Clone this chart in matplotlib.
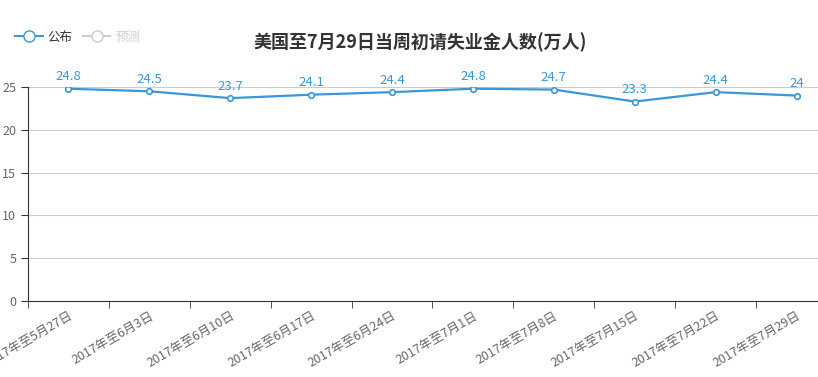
import numpy as np
import matplotlib.pyplot as plt
from matplotlib.lines import Line2D

plt.rcParams['font.family'] = ['Noto Sans CJK SC', 'DejaVu Sans']

weeks = ['2017年至5月27日', '2017年至6月3日', '2017年至6月10日', '2017年至6月17日',
         '2017年至6月24日', '2017年至7月1日', '2017年至7月8日', '2017年至7月15日',
         '2017年至7月22日', '2017年至7月29日']
published = [24.8, 24.5, 23.7, 24.1, 24.4, 24.8, 24.7, 23.3, 24.4, 24]
value_labels = ['24.8', '24.5', '23.7', '24.1', '24.4', '24.8', '24.7', '23.3', '24.4', '24']

blue = '#3a97d9'

fig = plt.figure(figsize=(8.18, 3.77), dpi=100)
ax = fig.add_axes([28 / 818, 76 / 377, 790 / 818, 214 / 377])

x = np.arange(len(weeks))
ax.plot(x, published, color=blue, lw=1.6, marker='o', ms=4,
        markerfacecolor='white', markeredgecolor=blue, markeredgewidth=1.2, zorder=3)
for xi, v, t in zip(x, published, value_labels):
    ax.annotate(t, (xi, v), xytext=(0, 4), textcoords='offset points',
                ha='center', va='bottom', color=blue, fontsize=9.5)

ax.set_yticks([0, 5, 10, 15, 20, 25])
ax.grid(axis='y', color='#cccccc', lw=0.8)
ax.set_axisbelow(True)

ax.set_xticks(x)
ax.set_xticklabels(weeks, rotation=30, ha='right', rotation_mode='anchor',
                   color='#666666', fontsize=9)
ax.tick_params(axis='x', length=0, pad=6)
ax.set_xticks(np.arange(-0.5, 10, 1), minor=True)
ax.tick_params(axis='x', which='minor', length=5, color='#333333')
ax.tick_params(axis='y', colors='#333333', labelcolor='#666666', labelsize=9, length=5)

# last category runs past the right edge, as in the reference
ax.set_ylim(0, 25)
ax.set_xlim(-0.5, 9.5 - 19 / 81)

for s in ['top', 'right']:
    ax.spines[s].set_visible(False)
ax.spines['left'].set_color('#333333')
ax.spines['bottom'].set_color('#333333')

fig.text(420 / 818, 1 - 42 / 377, '美国至7月29日当周初请失业金人数(万人)',
         ha='center', va='center', fontsize=13, fontweight='bold', color='#333333')

handles = [Line2D([], [], color=blue, marker='o', ms=8, markerfacecolor='white', lw=1.5),
           Line2D([], [], color='#cccccc', marker='o', ms=8, markerfacecolor='white', lw=1.5)]
leg = fig.legend(handles, ['公布', '预测'], loc='center left', bbox_to_anchor=(0.005, 1 - 37 / 377),
                 ncol=2, frameon=False, fontsize=9, handlelength=2.2, columnspacing=0.8,
                 handletextpad=0.4)
leg.get_texts()[0].set_color('#333333')
leg.get_texts()[1].set_color('#cccccc')

fig.savefig('out.png', dpi=100)
